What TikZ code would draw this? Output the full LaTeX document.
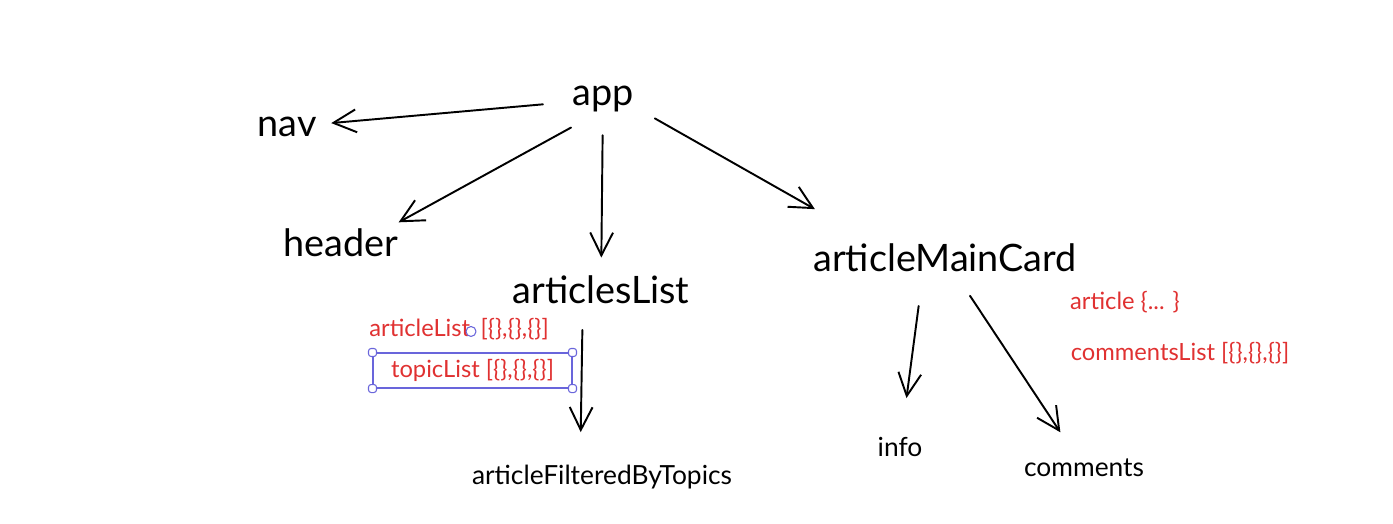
\documentclass[tikz,border=0pt]{standalone}
\usepackage{fontspec}
\setmainfont{Lato}
\usetikzlibrary{arrows.meta,calc}
\definecolor{notered}{HTML}{E03131}
\definecolor{selblue}{HTML}{6965DB}
\begin{document}
\begin{tikzpicture}[x=0.02cm, y=-0.02cm, >={Straight Barb[length=13pt,width=13pt]}, line join=round, line cap=round,
	big/.style={font=\fontsize{21.5}{25}\selectfont},
	small/.style={font=\fontsize{15}{18}\selectfont},
	note/.style={text=notered, font=\fontsize{13.5}{16}\selectfont},
	arr/.style={->, line width=1.1pt},
	handle/.style={draw=selblue, fill=white, rounded corners=1.5pt, minimum size=0.16cm, inner sep=0pt, line width=0.6pt}]
	\useasboundingbox (0,0) rectangle (1393,524);
	% components
	\node[big] (app) at (603,99) {app};
	\node[big] (nav) at (287,127) {nav};
	\node[big] (header) at (341,243) {header};
	\node[big] (articlesList) at (601,290) {articlesList};
	\node[big] (articleMainCard) at (945,258) {articleMainCard};
	\node[small] (articleFilteredByTopics) at (602,477) {articleFilteredByTopics};
	\node[small] (info) at (900,447) {info};
	\node[small] (comments) at (1084,468) {comments};
	% props
	\node[note, anchor=west, inner xsep=0pt] (articleListProp) at (369,329) {articleList\hspace{6pt}[\{\},\{\},\{\}]};
	\node[note, draw=selblue, line width=0.6pt, minimum width=3.98cm, minimum height=0.7cm] (topicList) at (472.5,370.5) {topicList [\{\},\{\},\{\}]};
	\node[note] (articleProp) at (1125,302) {article \{... \}};
	\node[note] (commentsListProp) at (1180,353) {commentsList [\{\},\{\},\{\}]};
	% selection handles
	\foreach \c in {north west, north east, south west, south east}
		\node[handle] at (topicList.\c) {};
	\node[handle, circle, minimum size=0.2cm] (rotate) at ($(topicList.north)+(-1.5,-21)$) {};
	% arrows
	\draw[arr] ($(app)!0.19!(nav)$) -- ($(app)!0.86!(nav)$);
	\draw[arr] ($([yshift=-0.22cm]app.center)!0.122!([yshift=-0.22cm]header.center)$) -- ($([yshift=-0.22cm]app.center)!0.78!([yshift=-0.22cm]header.center)$);
	\draw[arr] ($(app)!0.19!(articlesList)$) -- ($(app)!0.83!(articlesList)$);
	\draw[arr] ($([yshift=0.2cm]app.center)!0.174!([xshift=-0.88cm]articleMainCard.center)$) -- ($([yshift=0.2cm]app.center)!0.711!([xshift=-0.88cm]articleMainCard.center)$);
	\draw[arr] ($([xshift=-0.36cm]articlesList.center)!0.214!([xshift=-0.44cm]articleFilteredByTopics.center)$) -- ($([xshift=-0.36cm]articlesList.center)!0.76!([xshift=-0.44cm]articleFilteredByTopics.center)$);
	\draw[arr] ($([xshift=-0.4cm]articleMainCard.center)!0.254!(info)$) -- ($([xshift=-0.4cm]articleMainCard.center)!0.741!(info)$);
	\draw[arr] ($(articleMainCard)!0.18!(comments)$) -- ($(articleMainCard)!0.83!(comments)$);
\end{tikzpicture}
\end{document}
